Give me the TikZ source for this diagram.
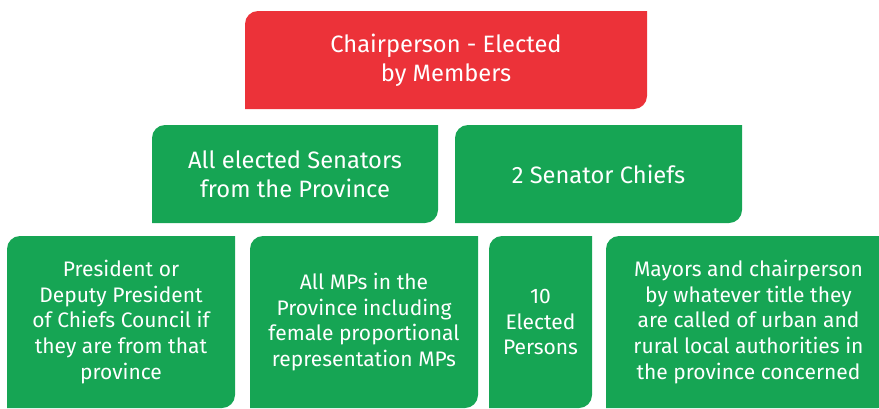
\documentclass[tikz,border=0pt]{standalone}
\usepackage{fontspec}
\setmainfont{Fira Sans}
\definecolor{boxred}{RGB}{236,50,57}
\definecolor{boxgreen}{RGB}{22,165,84}
\tikzset{
  boxtext/.style={text=white, align=center, inner sep=0pt},
  toptext/.style={boxtext, font=\fontsize{23.7}{29}\selectfont},
  lowtext/.style={boxtext, font=\fontsize{21}{25.8}\selectfont},
}
% \orgbox{name}{left}{top}{right}{bottom}{colour}{style}{text}
\newcommand\orgbox[8]{%
  \fill[#6] (#2pt,-#5pt) -- (#2pt,-#3pt-13pt) arc[start angle=180,end angle=90,radius=13pt]
    -- (#4pt,-#3pt) -- (#4pt,-#5pt+13pt) arc[start angle=0,end angle=-90,radius=13pt] -- cycle;
  \node[#7] (#1) at ({(#2+#4)/2*1pt},{-(#3+#5)/2*1pt}) {#8};
}
\begin{document}
\begin{tikzpicture}[x=1pt,y=1pt]
\useasboundingbox (0,0) rectangle (879,-408);
\orgbox{chair}{245}{11}{647}{109}{boxred}{toptext}{Chairperson - Elected\\by Members}
\orgbox{senators}{152}{125}{438}{223}{boxgreen}{toptext}{All elected Senators\\from the Province}
\orgbox{chiefs}{455}{125}{742}{223}{boxgreen}{toptext}{2 Senator Chiefs}
\orgbox{president}{7}{236}{235}{408}{boxgreen}{lowtext}{President or\\Deputy President\\of Chiefs Council if\\they are from that\\province}
\orgbox{mps}{250}{236}{478}{408}{boxgreen}{lowtext}{All MPs in the\\Province including\\female proportional\\representation MPs}
\orgbox{elected}{489}{236}{592}{408}{boxgreen}{lowtext}{10\\Elected\\Persons}
\orgbox{mayors}{606}{236}{891}{408}{boxgreen}{lowtext}{Mayors and chairperson\\by whatever title they\\are called of urban and\\rural local authorities in\\the province concerned}
\end{tikzpicture}
\end{document}
